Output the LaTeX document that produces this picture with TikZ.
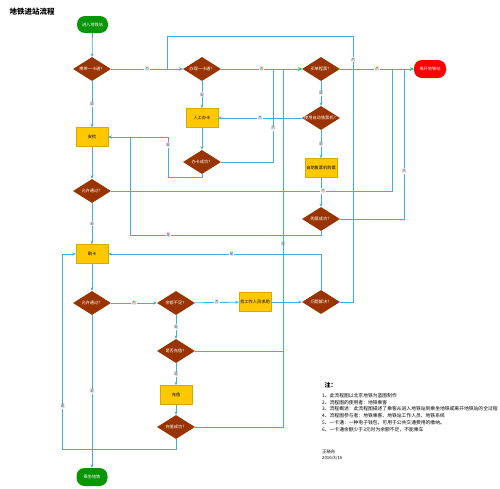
\documentclass[tikz,border=0pt]{standalone}
\usepackage{fontspec}
\setmainfont{Noto Sans CJK SC}
\usetikzlibrary{shapes.geometric,arrows.meta}
\definecolor{diabrown}{RGB}{153,51,0}
\definecolor{boxgold}{RGB}{255,200,0}
\definecolor{boxedge}{RGB}{214,170,0}
\definecolor{termgreen}{RGB}{8,150,8}
\definecolor{linkblue}{RGB}{64,176,216}
\tikzset{
  dia/.style={diamond,aspect=1.6,fill=diabrown,text=white,minimum width=38pt,minimum height=24pt,inner sep=0pt,font=\fontsize{4.2}{5}\selectfont},
  box/.style={fill=boxgold,draw=boxedge,line width=0.4pt,minimum width=32pt,minimum height=19pt,inner sep=0pt,font=\fontsize{4.2}{5}\selectfont},
  term/.style={rounded corners=8pt,text=white,minimum width=31pt,minimum height=17pt,inner sep=0pt,font=\fontsize{4.2}{5}\selectfont},
  conn/.style={draw=linkblue,line width=0.8pt,-{Stealth[length=3.5pt,width=3pt]}},
  lbl/.style={fill=white,inner sep=0.8pt,text=black!75,font=\fontsize{4}{5}\selectfont},
}
\begin{document}
\begin{tikzpicture}[x=1pt,y=-1pt]
  \useasboundingbox (0,0) rectangle (500,488);
  \node[anchor=west,font=\fontsize{7.5}{9}\selectfont\bfseries] (title) at (6,12) {地铁进站流程};
  \node[term,fill=termgreen] (start) at (92.5,24.5) {进入地铁站};
  \node[dia] (card1) at (92,69) {携带一卡通？};
  \node[dia] (apply) at (202,69) {办理一卡通？};
  \node[dia] (ticket) at (321,69) {买单程票？};
  \node[term,fill=red,minimum width=32pt,minimum height=18pt] (leave) at (430,69) {离开地铁站};
  \node[box] (manual) at (202,118) {人工办卡};
  \node[dia] (ok1) at (202,162) {办卡成功？};
  \node[dia] (machine) at (321,118) {\makebox[24pt]{使用自动售票机？}};
  \node[box] (selfbuy) at (321,168) {自助售票机购票};
  \node[dia] (bought) at (321,219) {购票成功？};
  \node[box] (check) at (92,137) {安检};
  \node[dia] (pass1) at (92,191) {允许通过？};
  \node[box] (swipe) at (92,254) {刷卡};
  \node[dia] (pass2) at (92,303) {允许通过？};
  \node[dia] (low) at (176,303) {余额不足？};
  \node[box] (staff) at (255,302) {找工作人员求助};
  \node[dia] (solved) at (321,302) {问题解决？};
  \node[dia] (topup) at (176,351) {是否充值？};
  \node[box] (recharge) at (176,395) {充值};
  \node[dia] (ok2) at (176,427) {充值成功？};
  \node[term,fill=termgreen,minimum height=18pt] (ride) at (92,477) {乘坐地铁};

  \begin{scope}[every path/.style={conn}]
    \draw (start) -- (card1);
    \draw (card1) -- node[lbl]{是} (check);
    \draw (card1) -- node[lbl]{否} (apply);
    \draw (apply) -- node[lbl]{是} (manual);
    \draw (apply) -- node[lbl]{否} (ticket);
    \draw (ticket) -- node[lbl]{否} (leave);
    \draw (ticket) -- node[lbl]{是} (machine);
    \draw (machine) -- node[lbl]{否} (manual);
    \draw (machine) -- node[lbl]{是} (selfbuy);
    \draw (selfbuy) -- (bought);
    \draw (manual) -- (ok1);
    \draw (ok1.east) -- ++(52,0) |- node[lbl,pos=0.18]{否} (ticket.west);
    \draw (ok1.south) -- ++(0,3) -| node[lbl,pos=0.9]{是} ([xshift=60pt]check.east) -- (check.east);
    \draw (bought.south) -- ++(0,4) -| node[lbl,pos=0.4]{是} ([xshift=22pt]check.east) -- (check.east);
    \draw (bought.east) -- ++(64,0) |- node[lbl,pos=0.16]{否} (leave.west);
    \draw (check) -- (pass1);
    \draw (pass1.east) -- node[lbl,pos=0.754]{否} ++(281,0) |- (leave.west);
    \draw (pass1) -- node[lbl]{是} (swipe);
    \draw (swipe) -- (pass2);
    \draw (pass2) -- node[lbl]{否} (low);
    \draw (pass2) -- node[lbl]{是} (ride);
    \draw (low) -- node[lbl]{否} (staff);
    \draw (low) -- node[lbl]{是} (topup);
    \draw (staff) -- (solved);
    \draw (solved.north) |- node[lbl,pos=0.71]{是} (swipe.east);
    \draw (solved.east) -- ++(13,0) -- node[lbl,pos=0.91]{否} ++(0,-266) -| ([xshift=-15pt]apply.west) -- (apply.west);
    \draw (topup) -- node[lbl]{是} (recharge);
    \draw (topup.east) -- ++(88,0) |- node[lbl,pos=0.19]{否} (ticket.west);
    \draw (recharge) -- (ok2);
    \draw (ok2.east) -- ++(88,0) |- (ticket.west);
    \draw (ok2.south) -- ++(0,10) -| node[lbl,pos=0.61]{是} ([xshift=-13pt]swipe.west) -- (swipe.west);
  \end{scope}

  \node[anchor=west,font=\fontsize{6}{7}\selectfont\bfseries] (note) at (321,385) {注：};
  \node[anchor=north west,align=left,inner sep=0pt,font=\fontsize{4.8}{6.8}\selectfont] (notes) at (322,393)
    {1、此流程图以北京地铁为蓝图制作\\
     2、流程图的使用者：地铁乘客\\
     3、流程概述：此流程图描述了乘客从进入地铁站到乘坐地铁或离开地铁站的全过程\\
     4、流程图参与者：地铁乘客、地铁站工作人员、地铁系统\\
     5、一卡通：一种电子钱包，可用于公共交通费用的缴纳。\\
     6、一卡通余额少于3元时为余额不足，不能乘车};
  \node[anchor=north west,align=left,inner sep=0pt,font=\fontsize{4.3}{5.3}\selectfont] (sign) at (322,450)
    {王晓舟\\2016/3/15};
\end{tikzpicture}
\end{document}
